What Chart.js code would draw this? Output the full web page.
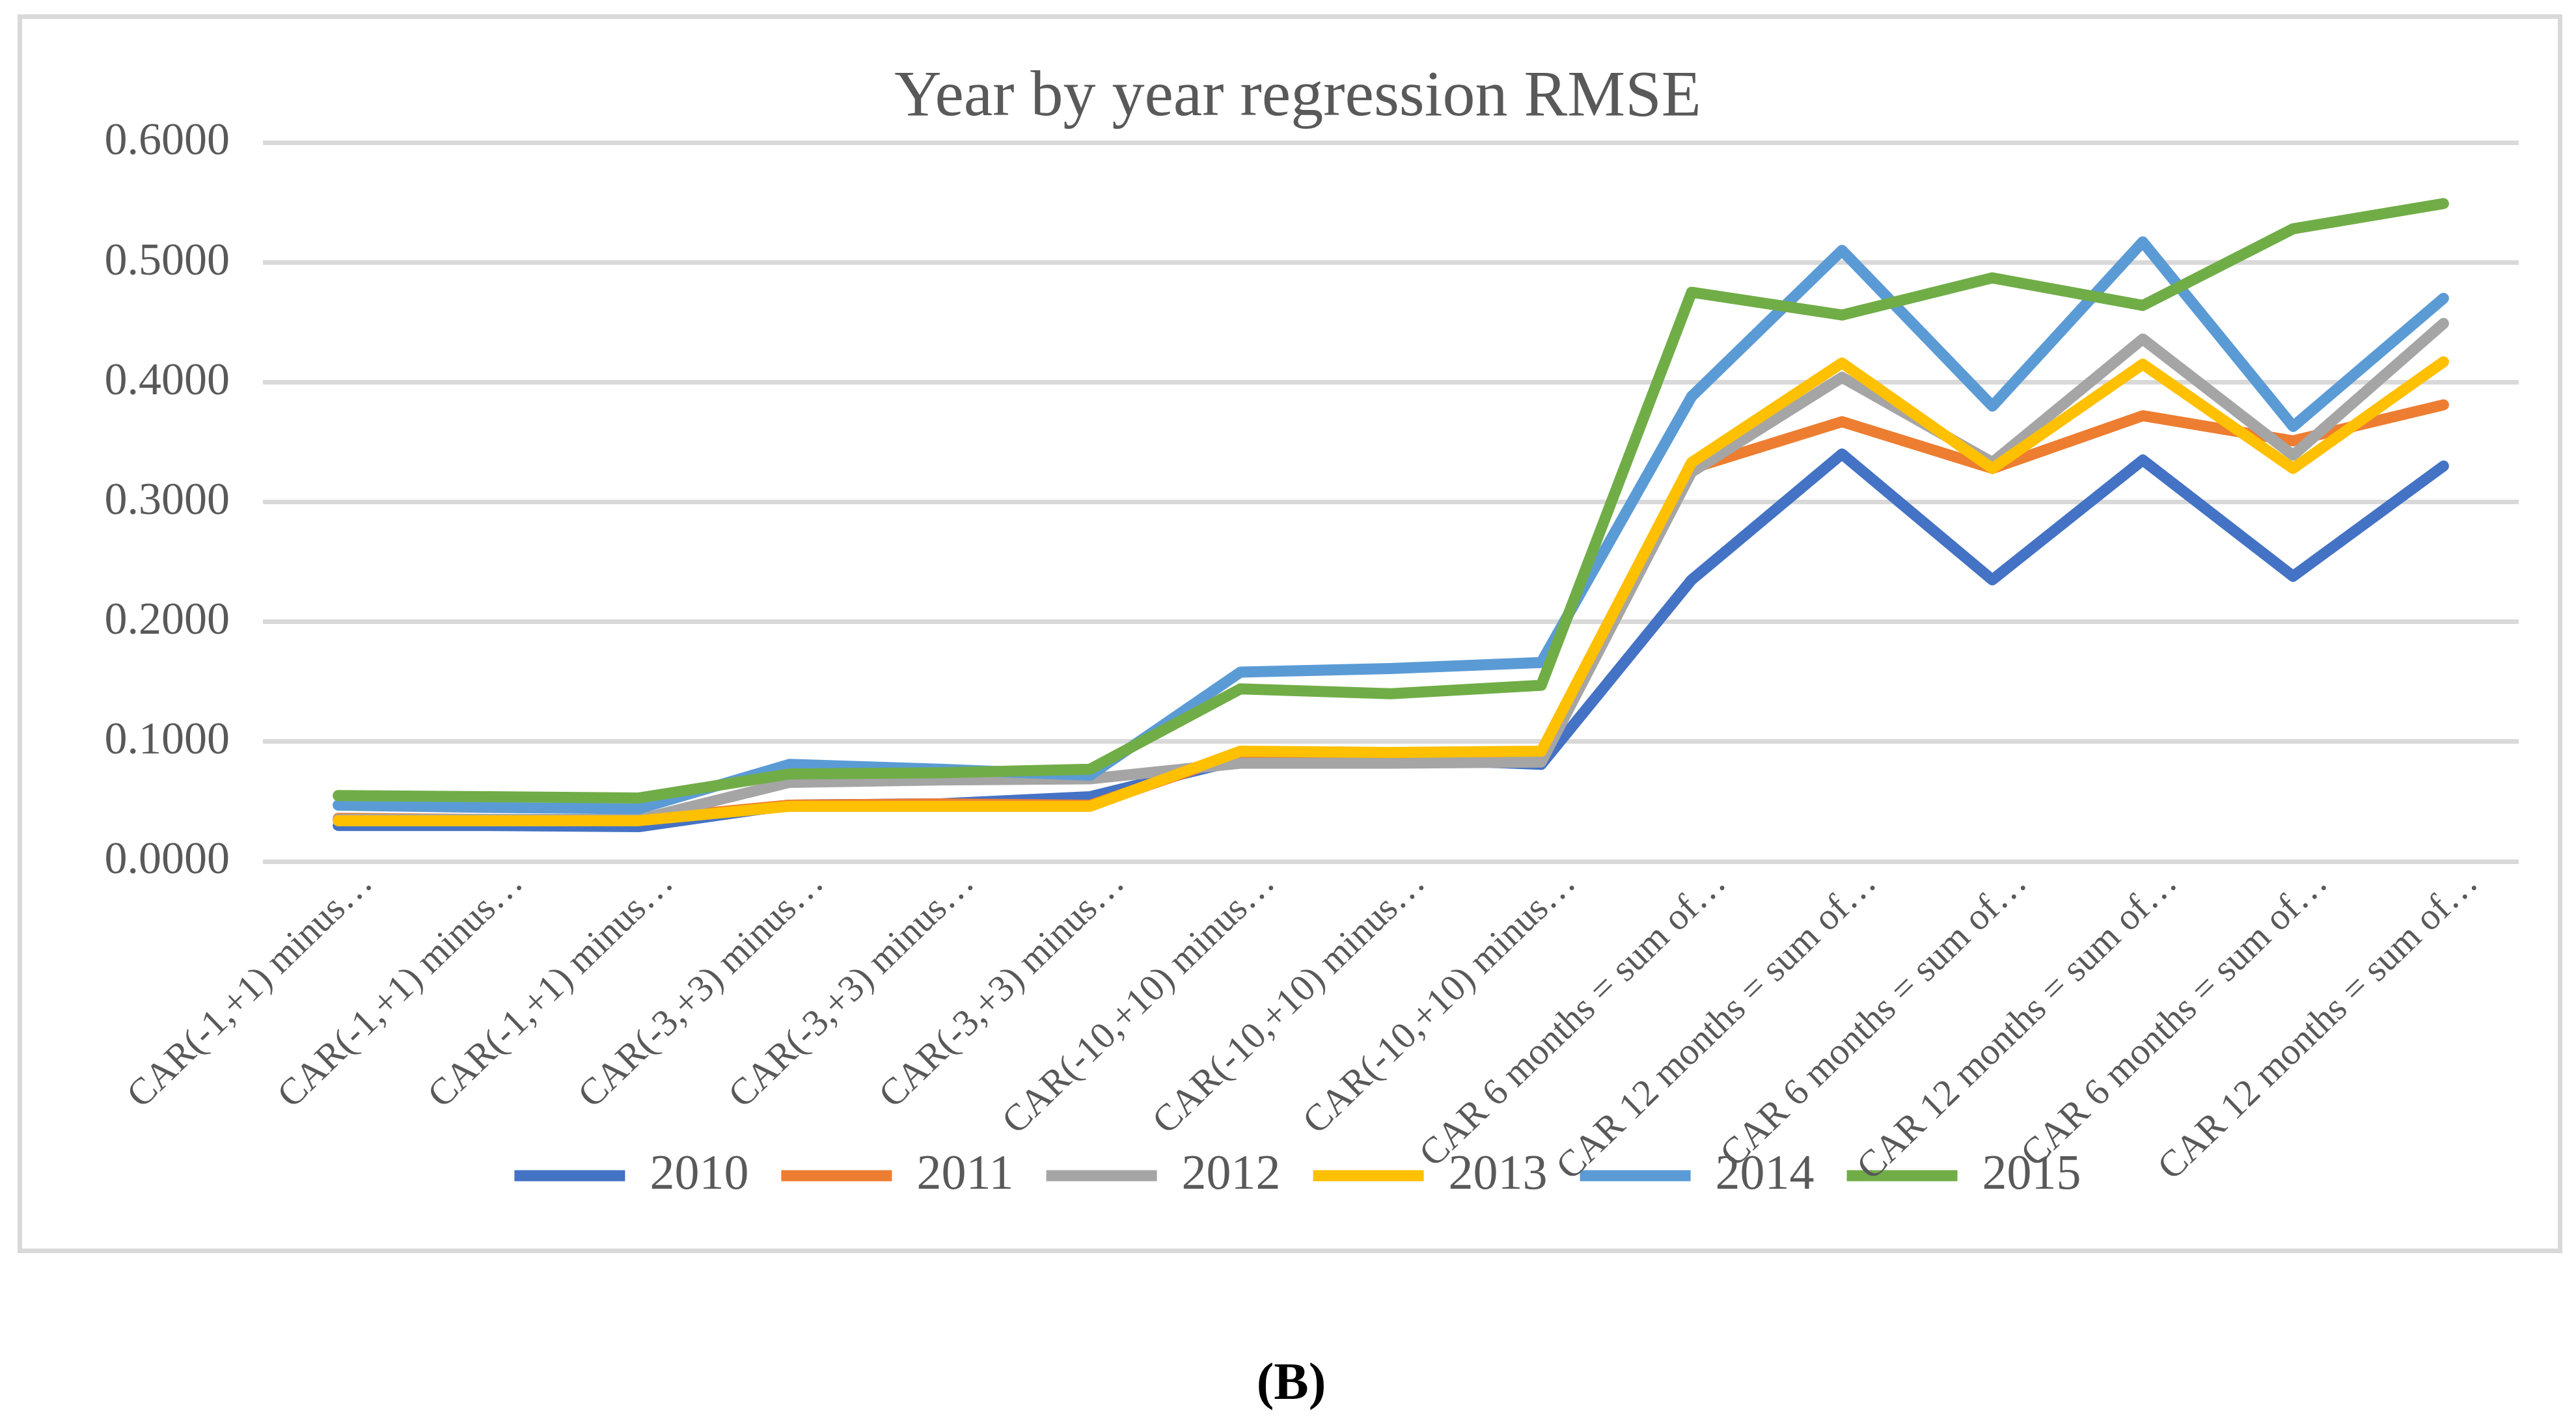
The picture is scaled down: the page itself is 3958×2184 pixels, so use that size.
<!DOCTYPE html>
<html>
<head>
<meta charset="utf-8">
<script src="https://cdn.jsdelivr.net/npm/chart.js@4.4.0/dist/chart.umd.min.js"></script>
<style>
  html, body { margin: 0; padding: 0; background: #ffffff; }
  body { width: 3958px; height: 2184px; position: relative; overflow: hidden; }
  #frame {
    position: absolute; left: 27px; top: 22px; width: 3910px; height: 1904px;
    border: 7px solid #d9d9d9; box-sizing: border-box; background: #ffffff;
  }
  #frame canvas { display: block; }
  #caption {
    position: absolute; left: 0; width: 3968px; top: 2078px; text-align: center;
    font-family: "Liberation Serif", "Times New Roman", serif; font-weight: bold;
    font-size: 80px; color: #000000;
  }
</style>
</head>
<body>
<div id="frame"><canvas id="rmseChart" width="3896" height="1890"></canvas></div>
<div id="caption">(B)</div>
<script>
const categories = [
  'CAR(-1,+1) minus…', 'CAR(-1,+1) minus…', 'CAR(-1,+1) minus…',
  'CAR(-3,+3) minus…', 'CAR(-3,+3) minus…', 'CAR(-3,+3) minus…',
  'CAR(-10,+10) minus…', 'CAR(-10,+10) minus…', 'CAR(-10,+10) minus…',
  'CAR 6 months = sum of…', 'CAR 12 months = sum of…',
  'CAR 6 months = sum of…', 'CAR 12 months = sum of…',
  'CAR 6 months = sum of…', 'CAR 12 months = sum of…'
];
const years = ['2010', '2011', '2012', '2013', '2014', '2015'];
const rmse2010 = [0.030, 0.030, 0.029, 0.047, 0.048, 0.054, 0.085, 0.086, 0.081, 0.235, 0.340, 0.235, 0.335, 0.238, 0.330];
const rmse2011 = [0.036, 0.035, 0.035, 0.047, 0.048, 0.047, 0.090, 0.089, 0.090, 0.328, 0.367, 0.328, 0.372, 0.351, 0.381];
const rmse2012 = [0.035, 0.035, 0.035, 0.066, 0.068, 0.069, 0.082, 0.082, 0.083, 0.325, 0.404, 0.333, 0.436, 0.339, 0.449];
const rmse2013 = [0.034, 0.034, 0.034, 0.046, 0.046, 0.046, 0.092, 0.091, 0.092, 0.333, 0.416, 0.328, 0.415, 0.328, 0.417];
const rmse2014 = [0.047, 0.045, 0.044, 0.081, 0.077, 0.072, 0.158, 0.161, 0.166, 0.388, 0.510, 0.380, 0.517, 0.363, 0.470];
const rmse2015 = [0.055, 0.054, 0.053, 0.073, 0.074, 0.077, 0.144, 0.140, 0.147, 0.475, 0.456, 0.487, 0.464, 0.528, 0.549];
const yTicks = [0, 0.1, 0.2, 0.3, 0.4, 0.5, 0.6];

const seriesValues = [rmse2010, rmse2011, rmse2012, rmse2013, rmse2014, rmse2015];
const seriesColors = ['#4472c4', '#ed7d31', '#a5a5a5', '#ffc000', '#5b9bd5', '#70ad47'];

const serif = '"Liberation Serif", "Times New Roman", serif';
const textGray = '#595959';

// excel draws later series on top, so reverse the draw order
const datasets = years.map(function(year, i) {
    return {
        label: year,
        data: seriesValues[i],
        borderColor: seriesColors[i],
        backgroundColor: seriesColors[i],
        borderWidth: 17,
        borderCapStyle: 'round',
        borderJoinStyle: 'round',
        pointRadius: 0,
        pointHoverRadius: 0,
        tension: 0,
        fill: false,
        order: years.length - i
    };
});

var ctx = document.getElementById('rmseChart').getContext('2d');

var rmseChart = new Chart(ctx, {
    type: 'line',
    data: {
        labels: categories,
        datasets: datasets
    },
    options: {
        responsive: false,
        animation: false,
        devicePixelRatio: 1,
        layout: {
            padding: { left: 84, right: 60, top: 0, bottom: 64 }
        },
        plugins: {
            title: {
                display: true,
                text: 'Year by year regression RMSE',
                color: textGray,
                font: { family: serif, size: 100, weight: 'normal' },
                padding: { top: 62, bottom: 8 }
            },
            legend: {
                position: 'bottom',
                labels: {
                    color: textGray,
                    font: { family: serif, size: 76 },
                    usePointStyle: true,
                    pointStyle: 'line',
                    pointStyleWidth: 170,
                    padding: 50,
                    sort: function(a, b) { return a.datasetIndex - b.datasetIndex; }
                }
            },
            tooltip: { enabled: false }
        },
        scales: {
            x: {
                offset: true,
                grid: { display: false },
                border: { display: false },
                ticks: {
                    color: textGray,
                    font: { family: serif, size: 58 },
                    autoSkip: false,
                    minRotation: 44,
                    maxRotation: 44,
                    padding: -8,
                    labelOffset: 45
                },
                afterFit: function(scale) {
                    scale.height = 395;
                    // let the slanted labels run under the legend like excel does
                    scale._computeLabelArea = function() { return undefined; };
                }
            },
            y: {
                min: 0,
                max: 0.6,
                afterBuildTicks: function(scale) {
                    scale.ticks = yTicks.map(function(v) { return { value: v }; });
                },
                grid: { color: '#d9d9d9', lineWidth: 7, drawTicks: false },
                border: { display: false },
                ticks: {
                    color: textGray,
                    font: { family: serif, size: 70 },
                    padding: 51,
                    callback: function(value) { return Number(value).toFixed(4); }
                },
                afterFit: function(scale) { scale.width = 286; }
            }
        }
    }
});
</script>
</body>
</html>
